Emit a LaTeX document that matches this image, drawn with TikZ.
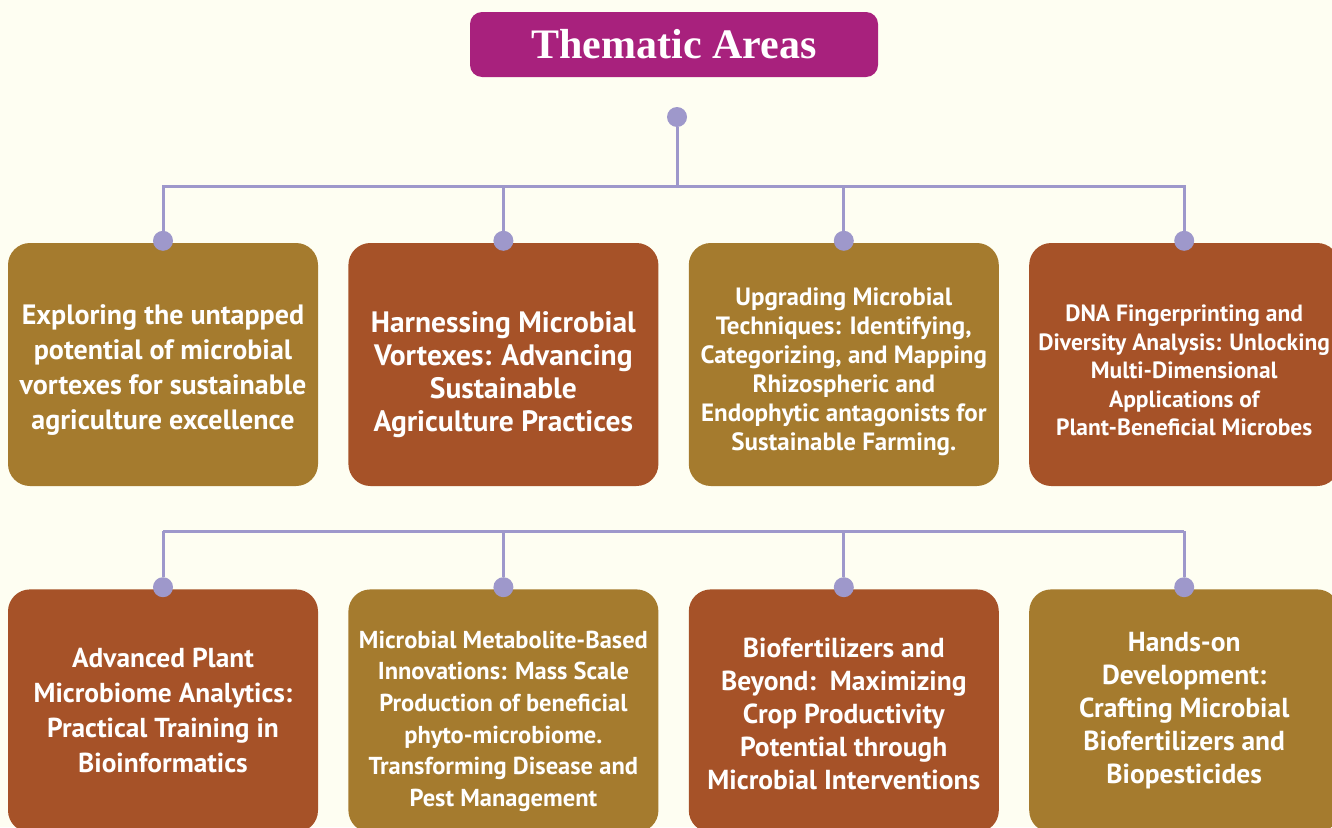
\documentclass[tikz,border=0pt]{standalone}
\usepackage{fontspec}
\setmainfont{Liberation Serif}
\setsansfont{PT Sans}
\usepackage{tikz}
\usetikzlibrary{positioning,calc}
\definecolor{bgcream}{HTML}{FEFEF2}
\definecolor{headpink}{HTML}{A8217D}
\definecolor{ochre}{HTML}{A57B2E}
\definecolor{rust}{HTML}{A65228}
\definecolor{lilac}{HTML}{9E98CB}
\newcommand{\topgap}[1]{\rule{0pt}{#1}}
\tikzset{
  theme/.style={
    rounded corners=22pt, minimum width=310pt, minimum height=243pt,
    align=center, text=white, inner sep=0pt
  },
  themeA/.style={theme, fill=ochre},
  themeB/.style={theme, fill=rust},
  fsz/.style 2 args={font=\sffamily\bfseries\fontsize{#1}{#2}\selectfont},
  knot/.style={circle, fill=lilac, inner sep=0pt, minimum size=20pt},
  link/.style={draw=lilac, line width=3pt},
}

\begin{document}
\begin{tikzpicture}[x=1pt, y=1pt, node distance=103pt and 30pt]
    \path[use as bounding box, fill=bgcream] (0,0) rectangle (1332,-827);
    \clip (0,0) rectangle (1332,-827);
    \node[fill=headpink, rounded corners=12pt, minimum width=408pt, minimum height=65pt,
          text=white, font=\bfseries\fontsize{42}{50}\selectfont] (ttl) at (674,-44.5) {Thematic Areas};
    \node[knot] (hub) at (677,-117) {};
    % first row
    \node[themeA, fsz={28}{35}] (a1) at (163,-364.5)
      {\topgap{30pt}Exploring the untapped\\potential of microbial\\vortexes for sustainable\\agriculture excellence};
    \node[themeB, fsz={29.5}{33}, right=of a1] (a2)
      {\topgap{41pt}Harnessing Microbial\\Vortexes: Advancing\\Sustainable\\Agriculture Practices};
    \node[themeA, fsz={25}{29}, right=of a2] (a3)
      {\topgap{32pt}Upgrading Microbial\\Techniques: Identifying,\\Categorizing, and Mapping\\Rhizospheric and\\Endophytic antagonists for\\Sustainable Farming.};
    \node[themeB, fsz={23.5}{28.5}, right=of a3] (a4)
      {\topgap{29pt}DNA Fingerprinting and\\Diversity Analysis: Unlocking\\Multi-Dimensional\\Applications of\\Plant-Beneficial Microbes};
    % second row
    \node[themeB, fsz={27.4}{35}, below=of a1] (b1)
      {Advanced Plant\\Microbiome Analytics:\\Practical Training in\\Bioinformatics};
    \node[themeA, fsz={24.5}{31.6}, right=of b1] (b2)
      {\topgap{38pt}Microbial Metabolite-Based\\Innovations: Mass Scale\\Production of beneficial\\phyto-microbiome.\\Transforming Disease and\\Pest Management};
    \node[themeB, fsz={27.5}{33}, right=of b2] (b3)
      {\topgap{26pt}Biofertilizers and\\Beyond:\ \ Maximizing\\Crop Productivity\\Potential through\\Microbial Interventions};
    \node[themeA, fsz={27.5}{33}, right=of b3] (b4)
      {Hands-on\\Development:\\Crafting Microbial\\Biofertilizers and\\Biopesticides};
    % dots on the boxes
    \foreach \b in {a1,a2,a3,a4,b1,b2,b3,b4}
      \node[knot, yshift=2pt] (d\b) at (\b.north) {};
    % tree lines
    \coordinate (bar1) at ($(hub)+(0,-69)$);
    \foreach \b in {a1,a2,a3,a4}
      \draw[link] (hub) -- (bar1) -| (d\b);
    \coordinate (bar2) at ($(a1.south)+(0,-45)$);
    \draw[link] (bar2 -| db1) -- (bar2 -| db4);
    \foreach \b in {b1,b2,b3,b4}
      \draw[link] (bar2 -| d\b) -- (d\b);
\end{tikzpicture}
\end{document}
